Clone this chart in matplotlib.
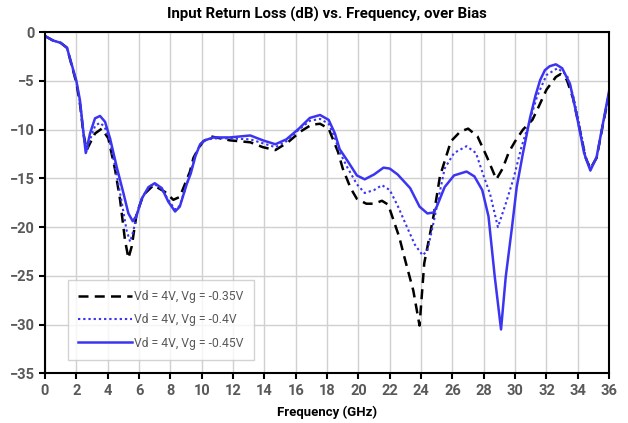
import matplotlib
matplotlib.use("Agg")
import matplotlib.pyplot as plt

plt.rcParams['font.family'] = ['Roboto', 'DejaVu Sans']

# Vd = 4V, Vg = -0.35V (dashed black)
f_035 = [0, 0.5, 1.0, 1.4, 1.7, 2.0, 2.25, 2.45, 2.66, 2.9, 3.19, 3.62, 4.04, 4.47,
         4.79, 5.1, 5.32, 5.53, 5.85, 6.28, 6.92, 7.66, 8.19, 8.6, 9.25, 9.47, 9.8,
         10.1, 10.6, 11.8, 13.1, 13.9, 14.7, 15.5, 16.3, 17.0, 17.55, 18.1, 18.5, 18.7,
         19.0, 19.5, 19.9, 20.5, 21.0, 21.5, 21.9, 22.6, 23.0, 23.5, 23.9, 24.2, 24.8,
         25.2, 25.9, 26.5, 27.0, 27.6, 28.2, 28.8, 29.2, 29.6, 30.0, 30.5, 31.1, 31.4,
         32.0, 32.6, 32.9, 33.3, 33.7, 34.1, 34.5, 34.8, 35.2, 35.6, 36.0]
s11_035 = [-0.4, -0.85, -1.1, -1.6, -3.4, -5.2, -7.6, -10.4, -12.1, -11.3, -10.4, -9.9,
           -10.9, -14.1, -17.2, -21.3, -23.2, -22.0, -18.6, -16.7, -15.7, -16.4, -17.2,
           -16.9, -14.3, -12.9, -11.9, -11.2, -10.7, -11.1, -11.3, -11.8, -12.1, -11.3,
           -10.2, -9.5, -9.4, -9.9, -11.5, -12.3, -14.0, -16.0, -17.1, -17.6, -17.6,
           -17.3, -17.7, -21.0, -23.5, -26.5, -30.1, -23.7, -18.8, -14.8, -11.2, -10.2,
           -9.9, -10.7, -12.8, -15.1, -14.0, -12.3, -11.2, -10.0, -9.0, -8.0, -5.9,
           -4.6, -4.3, -4.9, -6.8, -9.8, -12.9, -14.0, -12.9, -9.5, -6.3]

# Vd = 4V, Vg = -0.4V (dotted blue)
f_040 = [0, 0.5, 1.0, 1.4, 1.7, 2.0, 2.23, 2.45, 2.62, 2.9, 3.2, 3.5, 3.8, 4.1, 4.5,
         4.9, 5.2, 5.43, 5.65, 5.9, 6.25, 6.7, 7.0, 7.45, 7.9, 8.3, 8.6, 9.04, 9.3, 9.6,
         9.9, 10.2, 10.7, 11.8, 13.1, 13.9, 14.7, 15.4, 16.2, 16.9, 17.55, 18.1, 18.5,
         18.8, 19.3, 19.9, 20.4, 21.0, 21.5, 22.0, 22.5, 23.1, 23.6, 24.1, 24.4, 24.8,
         25.0, 25.5, 26.1, 26.9, 27.5, 28.0, 28.4, 28.9, 29.4, 29.9, 30.4, 30.95, 31.4,
         32.0, 32.7, 33.3, 33.7, 34.1, 34.5, 34.8, 35.2, 35.6, 36.0]
s11_040 = [-0.4, -0.85, -1.1, -1.6, -3.4, -5.1, -7.2, -10.3, -12.3, -10.9, -9.6, -9.3,
           -9.7, -11.0, -14.0, -17.5, -20.3, -21.5, -20.3, -18.4, -16.8, -15.8, -15.6,
           -16.1, -17.3, -18.2, -17.8, -15.6, -14.3, -12.6, -11.5, -11.1, -10.9, -10.9,
           -11.0, -11.4, -11.8, -11.2, -10.0, -9.1, -8.9, -9.4, -10.9, -12.3, -13.9,
           -15.6, -16.5, -16.2, -15.7, -16.2, -17.8, -20.0, -21.8, -22.9, -22.4, -19.5,
           -17.9, -14.0, -12.4, -11.7, -12.4, -14.8, -16.6, -20.0, -17.6, -15.0, -11.8,
           -9.0, -6.6, -4.4, -3.7, -4.4, -6.5, -9.5, -12.8, -14.0, -12.9, -9.5, -6.2]

# Vd = 4V, Vg = -0.45V (solid blue)
f_045 = [0, 0.5, 1.0, 1.4, 1.7, 2.0, 2.23, 2.45, 2.6, 2.87, 3.19, 3.51, 3.83, 4.15,
         4.57, 5.0, 5.32, 5.6, 5.85, 6.17, 6.6, 7.0, 7.45, 7.87, 8.3, 8.6, 9.04, 9.3,
         9.6, 9.9, 10.2, 10.74, 11.8, 13.1, 13.9, 14.7, 15.4, 16.2, 16.9, 17.55, 18.1,
         18.5, 18.8, 19.3, 19.9, 20.4, 21.0, 21.6, 22.0, 22.5, 23.3, 23.9, 24.4, 24.8,
         25.0, 25.5, 26.1, 26.9, 27.4, 27.9, 28.3, 28.7, 29.1, 29.4, 29.8, 30.1, 30.5,
         30.95, 31.3, 31.6, 31.9, 32.2, 32.6, 33.0, 33.5, 33.9, 34.4, 34.8, 35.2, 35.6,
         36.0]
s11_045 = [-0.4, -0.85, -1.1, -1.6, -3.3, -5.0, -7.0, -10.3, -12.4, -10.4, -8.84, -8.6,
           -9.2, -10.9, -13.8, -16.5, -18.6, -19.4, -18.8, -17.1, -15.9, -15.5, -16.0,
           -17.4, -18.4, -17.9, -15.6, -14.5, -12.7, -11.5, -11.1, -10.8, -10.8, -10.6,
           -11.1, -11.5, -11.0, -9.9, -8.8, -8.5, -9.0, -10.4, -12.0, -13.2, -14.7,
           -15.1, -14.6, -13.9, -14.0, -14.6, -16.0, -17.9, -18.6, -18.5, -17.9, -15.9,
           -14.7, -14.3, -14.8, -16.2, -18.9, -25.1, -30.5, -25.1, -20.0, -15.9, -12.4,
           -8.8, -6.5, -4.9, -3.9, -3.5, -3.3, -3.7, -5.3, -8.3, -12.4, -14.2, -12.8,
           -9.4, -6.0]

labels = ['Vd = 4V, Vg = -0.35V', 'Vd = 4V, Vg = -0.4V', 'Vd = 4V, Vg = -0.45V']
x_ticks = list(range(0, 37, 2))
y_ticks = list(range(-35, 1, 5))

blue = '#3b35f2'
gray = '#595959'

fig = plt.figure(figsize=(6.28, 4.23), dpi=100)
ax = fig.add_axes([0.0717, 0.1175, 0.8983, 0.8065])

ax.plot(f_035, s11_035, color='black', lw=1.8, ls=(0, (4, 2.5)), label=labels[0])
ax.plot(f_040, s11_040, color=blue, lw=1.5, ls=(0, (1.1, 1.4)), label=labels[1])
ax.plot(f_045, s11_045, color=blue, lw=1.8, label=labels[2])

ax.set_xlim(0, 36)
ax.set_ylim(-35, 0)
ax.set_xticks(x_ticks)
ax.set_yticks(y_ticks)
ax.grid(True, color='#d0d0d0', lw=1)
ax.set_axisbelow(True)
for s in ax.spines.values():
    s.set_color('black')
    s.set_linewidth(1.5)
ax.tick_params(direction='out', length=4, width=1.5, color='black',
               labelcolor=gray, labelsize=10.5)
for t in ax.get_xticklabels() + ax.get_yticklabels():
    t.set_fontweight('bold')

ax.set_title('Input Return Loss (dB) vs. Frequency, over Bias', fontsize=10.8,
             fontweight='bold', pad=10)
ax.set_xlabel('Frequency (GHz)', fontsize=9.5, fontweight='bold', labelpad=6)

leg = ax.legend(loc='lower left', bbox_to_anchor=(0.041, 0.039), borderaxespad=0,
                fontsize=8.7, frameon=True, fancybox=False, handlelength=4.4,
                handletextpad=0.2, labelspacing=0.85, borderpad=0.85)
leg.get_frame().set_edgecolor('#c8c8c8')
leg.get_frame().set_linewidth(1)
for t in leg.get_texts():
    t.set_color(gray)

fig.savefig('out.png', dpi=100)
